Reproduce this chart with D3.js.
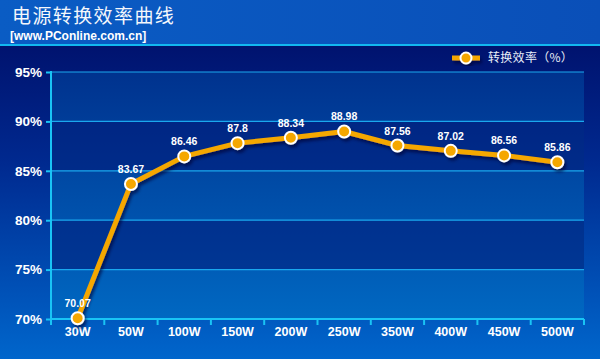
<!DOCTYPE html>
<html><head><meta charset="utf-8">
<script src="https://cdn.jsdelivr.net/npm/d3@7/dist/d3.min.js"></script>
<style>body{margin:0;background:#000a60;}svg{display:block;}</style>
</head><body>
<script>
const categories = ["30W","50W","100W","150W","200W","250W","350W","400W","450W","500W"];
const efficiency = [70.07,83.67,86.46,87.8,88.34,88.98,87.56,87.02,86.56,85.86];
const yTicks = [70,75,80,85,90,95];
const seriesName = "转换效率（%）";
const title = "电源转换效率曲线";
const subtitle = "[www.PConline.com.cn]";

(function(){
const W = 600, H = 359;
const svg = d3.select("body").append("svg").attr("width", W).attr("height", H);
const defs = svg.append("defs");
const bg = defs.append("linearGradient").attr("id","bg").attr("x1",0).attr("y1",0).attr("x2",0).attr("y2",1);
bg.append("stop").attr("offset",0).attr("stop-color","#000a62");
bg.append("stop").attr("offset",0.45).attr("stop-color","#00298f");
bg.append("stop").attr("offset",1).attr("stop-color","#0066cc");
const hd = defs.append("linearGradient").attr("id","hd").attr("x1",0).attr("y1",0).attr("x2",1).attr("y2",0);
hd.append("stop").attr("offset",0).attr("stop-color","#0a5cc4");
hd.append("stop").attr("offset",1).attr("stop-color","#0a4fb8");
const pg = defs.append("linearGradient").attr("id","pg").attr("x1",0).attr("y1",0).attr("x2",0).attr("y2",1);
pg.append("stop").attr("offset",0).attr("stop-color","#00328e");
pg.append("stop").attr("offset",1).attr("stop-color","#0068c2");
const sh = defs.append("filter").attr("id","sh").attr("x","-10%").attr("y","-10%").attr("width","130%").attr("height","130%");
sh.append("feDropShadow").attr("dx",2).attr("dy",3).attr("stdDeviation",1.5).attr("flood-color","#000030").attr("flood-opacity",0.6);

svg.append("rect").attr("width",W).attr("height",H).attr("fill","url(#bg)");
svg.append("rect").attr("width",W).attr("height",44).attr("fill","url(#hd)");
svg.append("rect").attr("y",44).attr("width",W).attr("height",2).attr("fill","#12b8f0");

svg.append("text").attr("x",12).attr("y",22.5).attr("fill","#f4f7fc")
  .style("font-family","'Noto Sans CJK SC'").style("font-size","19px").style("letter-spacing","1.4px").text(title);
svg.append("text").attr("x",10).attr("y",39.5).attr("fill","#fff")
  .style("font-family","'Liberation Sans',Arial").style("font-weight","bold").style("font-size","12px").text(subtitle);

const pL = 51, pR = 584, pT = 72, pB = 319;
const x = d3.scaleBand().domain(categories).range([pL,pR]);
const y = d3.scaleLinear().domain([70,95]).range([pB,pT]);

svg.append("rect").attr("x",pL).attr("y",pT).attr("width",pR-pL).attr("height",pB-pT).attr("fill","url(#pg)");
for (let i=0;i<yTicks.length-1;i++){
  const a = yTicks[i], b = yTicks[i+1];
  if (i%2===1){
    svg.append("rect").attr("x",pL).attr("y",y(b)).attr("width",pR-pL).attr("height",y(a)-y(b))
      .attr("fill","#001070").attr("opacity",0.5);
  }
}
svg.append("g").selectAll("line").data(yTicks.slice(1)).join("line")
  .attr("x1",pL).attr("x2",pR).attr("y1",d=>y(d)).attr("y2",d=>y(d))
  .attr("stroke","#1aa8ee").attr("stroke-width",1.2);

const ya = svg.append("g").attr("transform",`translate(${pL},0)`)
  .call(d3.axisLeft(y).tickValues(yTicks).tickSize(5).tickPadding(4).tickFormat(d=>d+"%"));
ya.select(".domain").attr("stroke","#19c4f5").attr("stroke-width",2).attr("d",`M0,${pT-1}V${pB+6}`);
ya.selectAll(".tick line").attr("stroke","#19c4f5").attr("stroke-width",2);
ya.selectAll("text").attr("fill","#fff").style("font-family","'Liberation Sans',Arial").style("font-weight","bold").style("font-size","13.5px");

const xa = svg.append("g").attr("transform",`translate(0,${pB})`)
  .call(d3.axisBottom(x).tickSize(0).tickPadding(8));
xa.select(".domain").attr("stroke","#19c4f5").attr("stroke-width",2).attr("d",`M${pL},0H${pR}`);
xa.selectAll("text").attr("fill","#fff").style("font-family","'Liberation Sans',Arial").style("font-weight","bold").style("font-size","12.5px");
svg.append("g").selectAll("line").data(categories).join("line")
  .attr("x1",d=>x(d)+x.bandwidth()).attr("x2",d=>x(d)+x.bandwidth())
  .attr("y1",pB).attr("y2",pB+6).attr("stroke","#19c4f5").attr("stroke-width",2);

const px = (d,i)=>x(categories[i])+x.bandwidth()/2;
const line = d3.line().x((d,i)=>px(d,i)).y(d=>y(d));
const g = svg.append("g").attr("filter","url(#sh)");
g.append("path").datum(efficiency).attr("d",line).attr("fill","none")
  .attr("stroke","#f5a700").attr("stroke-width",5).attr("stroke-linejoin","round");
g.selectAll("circle").data(efficiency).join("circle")
  .attr("cx",(d,i)=>px(d,i)).attr("cy",d=>y(d)).attr("r",6)
  .attr("fill","#f5a700").attr("stroke","#fff").attr("stroke-width",2);
svg.append("g").selectAll("text").data(efficiency).join("text")
  .attr("x",(d,i)=>px(d,i)).attr("y",d=>y(d)-11).attr("text-anchor","middle")
  .attr("fill","#fff").style("font-family","'Liberation Sans',Arial").style("font-weight","bold").style("font-size","10.5px")
  .text(d=>d);

const lg = svg.append("g").attr("filter","url(#sh)");
lg.append("line").attr("x1",452).attr("x2",480).attr("y1",58).attr("y2",58).attr("stroke","#f5a700").attr("stroke-width",5);
lg.append("circle").attr("cx",466).attr("cy",58).attr("r",5.5).attr("fill","#f5a700").attr("stroke","#fff").attr("stroke-width",2);
svg.append("text").attr("x",488).attr("y",62).attr("fill","#e8eef8")
  .style("font-family","'Noto Sans CJK SC'").style("font-size","12px").style("letter-spacing","0.3px").text(seriesName);
})();
</script>
</body></html>
